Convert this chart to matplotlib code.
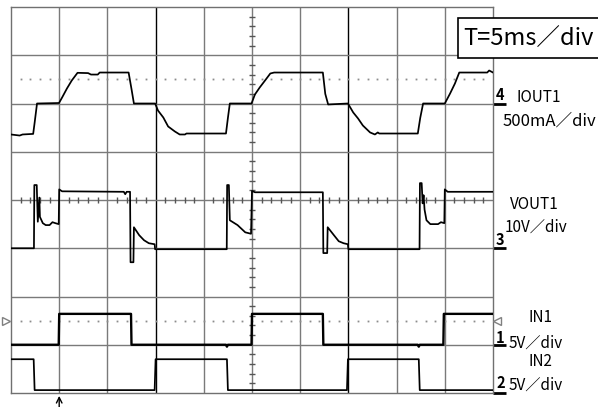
import numpy as np
import matplotlib
matplotlib.use("Agg")
import matplotlib.pyplot as plt
from matplotlib.patches import Rectangle

plt.rcParams['font.family'] = ['Noto Sans CJK JP', 'DejaVu Sans']

# ---------------- data (time in ms, 5 ms/div, 10 div) ----------------
# IOUT1 (mA), 500 mA/div
iout_t = [0, 0.9, 1.2, 2.3, 2.45, 2.6, 2.7, 4.98, 5.3, 5.8, 6.3, 6.9, 8.0, 8.3, 9.0, 9.2,
          12.2, 12.5, 12.75, 14.95, 15.25, 15.8, 16.3, 17.0, 17.5, 18.05, 18.2, 22.3, 22.5,
          22.7, 24.95, 25.3, 25.8, 26.35, 26.9, 27.3, 32.35, 32.6, 32.9, 34.95, 35.5, 36.0,
          36.5, 37.25, 37.75, 38.05, 38.2, 42.2, 42.45, 42.75, 45.0, 45.55, 46.05, 46.5,
          49.4, 49.6, 50]
iout_ma = [-321, -332, -321, -315, -200, -80, 0, 5, 62, 155, 238, 318, 315, 300, 300, 321,
           321, 150, 0, 0, -73, -145, -238, -290, -321, -321, -311, -311, -150,
           0, 0, 93, 166, 238, 311, 321, 321, 100, -10, 0, -93, -155,
           -228, -300, -321, -300, -311, -311, -150, 0, 0, 104, 207, 321,
           321, 342, 321]

# VOUT1 (V), 10 V/div
vout_t = [0, 2.38, 2.42, 2.67, 2.78, 2.94, 3.0, 3.3, 3.6, 4.0, 4.3, 4.6, 4.95, 5.0, 5.3,
          11.7, 11.85, 12.0, 12.35, 12.4, 12.7, 12.75, 13.3, 13.8, 14.3, 14.9, 14.95,
          22.38, 22.42, 22.6, 22.7, 23.5, 24.3, 24.9, 25.0, 25.3, 32.35, 32.4, 32.8, 32.85,
          33.5, 34.0, 34.5, 34.95, 35.0, 42.38, 42.42, 42.6, 42.7, 42.8, 42.9, 43.1, 43.5,
          44.3, 44.6, 44.95, 45.0, 45.3, 50]
vout_v = [0, 0, 13.1, 13.1, 5.5, 10.5, 6.5, 5.2, 4.8, 4.8, 5.4, 5.2, 5.0, 12.2, 11.8,
          11.7, 11.2, 11.7, 11.7, -2.9, -2.9, 4.35, 2.7, 1.66, 1.04, 0.83, -0.2,
          -0.2, 13.1, 13.1, 5.8, 4.8, 3.3, 3.0, 11.9, 11.6, 11.6, -1.0, -1.0, 4.35,
          2.7, 1.45, 1.04, 0.83, -0.2, -0.2, 13.5, 13.5, 9.3, 11.0, 8.0, 5.8, 5.0,
          5.0, 5.4, 5.2, 12.2, 11.7, 11.7]

# IN1 (V), 5 V/div
in1_t = [0, 4.95, 5.0, 12.45, 12.5, 22.3, 22.4, 22.5, 24.95, 25.0, 32.35, 32.4, 42.2,
         42.3, 42.4, 44.85, 44.9, 50]
in1_v = [0, 0, 3.2, 3.2, 0, 0, -0.2, 0, 0, 3.2, 3.2, 0, 0, -0.2, 0, 0, 3.2, 3.2]

# IN2 (V), 5 V/div
in2_t = [0, 2.35, 2.45, 14.9, 15.0, 22.4, 22.5, 34.85, 34.95, 42.3, 42.4, 50]
in2_v = [3.5, 3.5, 0.3, 0.3, 3.5, 3.5, 0.3, 0.3, 3.5, 3.5, 0.3, 0.3]

# channel settings: (offset in div, units per div)
iout_off, iout_scale = 6.0, 500.0
vout_off, vout_scale = 3.0, 10.0
in1_off, in1_scale = 1.0, 5.0
in2_off, in2_scale = 0.0, 5.0
iout_cursor_ma = 250.0
in1_trig_v = 2.5
trig_time_ms = 5.0

# ---------------- figure ----------------
W, H = 598, 407
fig = plt.figure(figsize=(W / 100, H / 100), dpi=100)
L, R, T, B = 11, 493, 7, 393
ax = fig.add_axes([L / W, 1 - B / H, (R - L) / W, (B - T) / H])
ax.set_xlim(0, 50)
ax.set_ylim(0, 8)
ax.set_xticks([])
ax.set_yticks([])
for s in ax.spines.values():
    s.set_color('#707070')
    s.set_linewidth(1.0)

grid_c = '#7a7a7a'
for k in range(1, 10):
    c = 'black' if k in (3, 7) else grid_c
    ax.axvline(k * 5, color=c, lw=1.0, zorder=1)
for k in range(1, 8):
    ax.axhline(k, color=grid_c, lw=1.0, zorder=1)

# center cross minor ticks
mt = [k for k in range(1, 50) if k % 5 != 0]
ax.plot(mt, [4] * len(mt), linestyle='none', marker='|', ms=5, mew=1.0, color='#555555', zorder=2)
my = [k / 5 for k in range(1, 40) if k % 5 != 0]
ax.plot([25] * len(my), my, linestyle='none', marker='_', ms=5, mew=1.0, color='#555555', zorder=2)

# dotted cursor lines
dt = np.arange(1, 50, 1)
ax.plot(dt, [iout_off + iout_cursor_ma / iout_scale] * len(dt), linestyle='none', marker='s',
        ms=1.3, color='#8c8c8c', mew=0, zorder=2)
ax.plot(dt, [in1_off + in1_trig_v / in1_scale] * len(dt), linestyle='none', marker='s',
        ms=1.3, color='#8c8c8c', mew=0, zorder=2)

# traces
lw = 1.25
ax.plot(iout_t, iout_off + np.array(iout_ma) / iout_scale, color='black', lw=lw, zorder=3)
ax.plot(vout_t, vout_off + np.array(vout_v) / vout_scale, color='black', lw=lw, zorder=3)
ax.plot(in1_t, in1_off + np.array(in1_v) / in1_scale, color='black', lw=1.7, zorder=3)
ax.plot(in2_t, in2_off + np.array(in2_v) / in2_scale, color='black', lw=lw, zorder=3)

# trigger level markers
ytrig = in1_off + in1_trig_v / in1_scale
ax.plot([-0.55], [ytrig], marker='>', ms=6, mfc='white', mec='#808080', mew=1.0,
        clip_on=False, zorder=4)
ax.plot([50.45], [ytrig], marker='<', ms=6, mfc='white', mec='#808080', mew=1.0,
        clip_on=False, zorder=4)

# trigger position arrow
ax.annotate('', xy=(trig_time_ms, -0.06), xytext=(trig_time_ms, -0.32),
            xycoords='data', textcoords='data',
            arrowprops=dict(arrowstyle='->', lw=1.0, color='black', mutation_scale=10,
                            shrinkA=0, shrinkB=0),
            annotation_clip=False)

# ground markers (underlines) at right
for off in (iout_off, vout_off, in1_off, in2_off):
    ax.plot([50, 51.3], [off, off], color='black', lw=2.0, clip_on=False, solid_capstyle='butt')


def ftext(x, y, s, **kw):
    fig.text(x / W, 1 - y / H, s, **kw)


lab = dict(fontsize=11, va='center', ha='left', color='black')
num = dict(fontsize=10.5, va='center', ha='left', color='black', fontweight='bold')
ftext(496, 95, '4', **num)
ftext(517, 97, 'IOUT1', **lab)
ftext(503, 121, '500mA／div', fontsize=12, va='center', ha='left', color='black')
ftext(510, 204, 'VOUT1', **lab)
ftext(505, 227, '10V／div', **lab)
ftext(496, 240, '3', **num)
ftext(528, 318, 'IN1', **lab)
ftext(496, 338, '1', **num)
ftext(509, 343, '5V／div', **lab)
ftext(528, 362, 'IN2', **lab)
ftext(496, 383, '2', **num)
ftext(509, 385, '5V／div', **lab)

# time base box
fig.patches.append(Rectangle((458 / W, 1 - 58 / H), 150 / W, 40 / H, transform=fig.transFigure,
                             facecolor='white', edgecolor='black', lw=1.2, zorder=10))
ftext(463, 39, 'T=5ms／div', fontsize=17, va='center', ha='left', zorder=11)

fig.savefig('out.png', dpi=100)
